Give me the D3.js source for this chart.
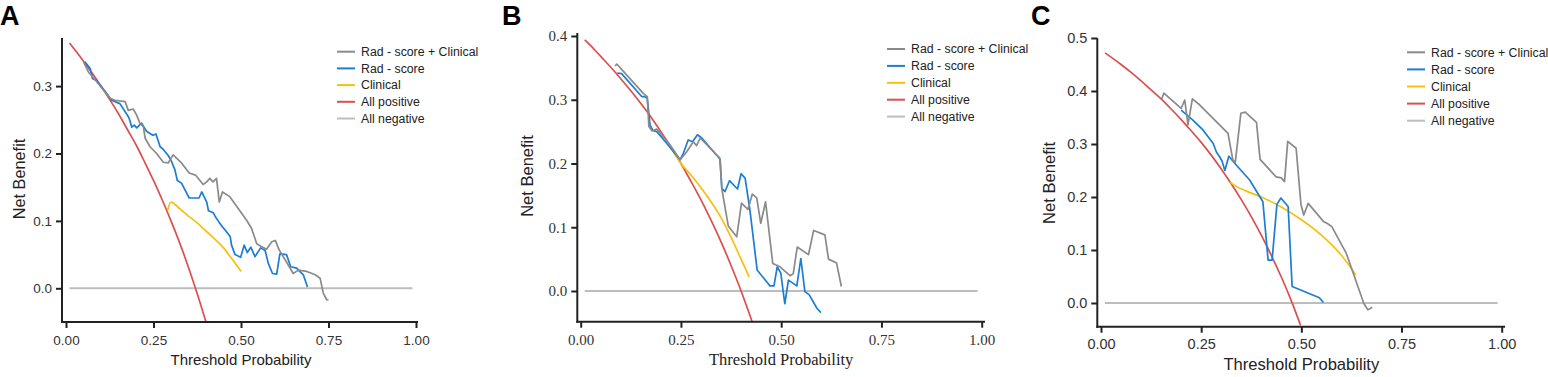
<!DOCTYPE html>
<html>
<head>
<meta charset="utf-8">
<script src="https://cdn.jsdelivr.net/npm/d3@7"></script>
<style>
  body { margin: 0; background: #fff; }
  svg { display: block; }
</style>
</head>
<body>
<svg id="chart" width="1548" height="377"></svg>
<script>

// ---- data: [threshold, net benefit] ----
var legendNames = ["Rad - score + Clinical", "Rad - score", "Clinical", "All positive", "All negative"];
var xTicks = [0, 0.25, 0.5, 0.75, 1];

// panel A
var radClinA = [[0.05,0.336],[0.064,0.321],[0.09,0.305],[0.126,0.282],[0.14,0.279],[0.169,0.277],[0.178,0.264],[0.192,0.266],[0.202,0.257],[0.211,0.245],[0.221,0.24],[0.226,0.223],[0.24,0.21],[0.259,0.2],[0.278,0.187],[0.292,0.186],[0.306,0.198],[0.33,0.186],[0.352,0.171],[0.37,0.168],[0.392,0.154],[0.402,0.158],[0.411,0.163],[0.42,0.158],[0.43,0.163],[0.438,0.128],[0.447,0.143],[0.468,0.136],[0.49,0.12],[0.516,0.101],[0.53,0.089],[0.545,0.066],[0.558,0.062],[0.573,0.058],[0.588,0.069],[0.598,0.071],[0.609,0.057],[0.63,0.039],[0.649,0.022],[0.664,0.027],[0.688,0.025],[0.712,0.02],[0.726,0.015],[0.735,-0.007],[0.745,-0.017],[0.75,-0.017]];
var radA = [[0.054,0.336],[0.069,0.326],[0.076,0.311],[0.086,0.309],[0.1,0.3],[0.115,0.29],[0.13,0.279],[0.154,0.274],[0.169,0.262],[0.18,0.253],[0.188,0.239],[0.195,0.242],[0.202,0.238],[0.216,0.245],[0.23,0.233],[0.248,0.227],[0.257,0.229],[0.269,0.21],[0.278,0.206],[0.292,0.197],[0.3,0.19],[0.311,0.176],[0.318,0.16],[0.33,0.156],[0.352,0.134],[0.38,0.134],[0.388,0.143],[0.402,0.128],[0.407,0.115],[0.421,0.112],[0.426,0.107],[0.44,0.096],[0.447,0.091],[0.454,0.087],[0.469,0.077],[0.473,0.064],[0.483,0.05],[0.499,0.046],[0.509,0.064],[0.518,0.053],[0.528,0.061],[0.54,0.047],[0.556,0.06],[0.569,0.056],[0.578,0.037],[0.59,0.022],[0.602,0.021],[0.611,0.051],[0.63,0.05],[0.642,0.032],[0.659,0.03],[0.668,0.025],[0.678,0.02],[0.69,0.002]];
var clinA = [[0.29,0.115],[0.3,0.128],[0.325,0.118],[0.35,0.107],[0.375,0.097],[0.4,0.085],[0.425,0.073],[0.45,0.06],[0.475,0.043],[0.5,0.025]];
var allPosA = [[0.01,0.364],[0.025,0.354],[0.05,0.337],[0.075,0.319],[0.1,0.30],[0.125,0.28],[0.15,0.259],[0.175,0.236],[0.2,0.213],[0.225,0.187],[0.25,0.16],[0.275,0.131],[0.3,0.10],[0.325,0.067],[0.35,0.031],[0.375,-0.008],[0.4,-0.05]];
var allNegA = [[0.01,0],[0.99,0]];
var yTicksA = [0, 0.1, 0.2, 0.3];

// panel B
var radClinB = [[0.086,0.353],[0.09,0.356],[0.12,0.335],[0.156,0.31],[0.166,0.305],[0.17,0.258],[0.178,0.251],[0.19,0.254],[0.223,0.229],[0.248,0.206],[0.264,0.218],[0.281,0.234],[0.289,0.228],[0.298,0.24],[0.343,0.211],[0.348,0.205],[0.352,0.16],[0.368,0.102],[0.389,0.085],[0.401,0.138],[0.417,0.128],[0.428,0.152],[0.439,0.146],[0.449,0.106],[0.461,0.14],[0.479,0.043],[0.497,0.038],[0.522,0.024],[0.53,0.027],[0.54,0.069],[0.568,0.057],[0.581,0.095],[0.609,0.088],[0.618,0.05],[0.638,0.044],[0.65,0.007]];
var radB = [[0.091,0.342],[0.102,0.341],[0.152,0.305],[0.16,0.305],[0.166,0.302],[0.173,0.26],[0.18,0.252],[0.19,0.25],[0.21,0.235],[0.248,0.206],[0.256,0.216],[0.268,0.237],[0.279,0.234],[0.291,0.245],[0.302,0.24],[0.339,0.213],[0.347,0.208],[0.352,0.161],[0.36,0.156],[0.371,0.173],[0.391,0.16],[0.4,0.184],[0.41,0.177],[0.422,0.127],[0.44,0.033],[0.472,0.008],[0.482,0.008],[0.49,0.038],[0.499,0.028],[0.509,-0.02],[0.518,0.017],[0.539,0.008],[0.549,0.051],[0.559,-0.001],[0.57,-0.006],[0.589,-0.027],[0.599,-0.034]];
var clinB = [[0.22,0.23],[0.25,0.2],[0.275,0.182],[0.3,0.162],[0.325,0.14],[0.35,0.115],[0.375,0.084],[0.4,0.05],[0.42,0.022]];
var allPosB = [[0.01,0.394],[0.025,0.385],[0.05,0.368],[0.075,0.351],[0.1,0.333],[0.125,0.314],[0.15,0.294],[0.175,0.273],[0.2,0.25],[0.225,0.226],[0.25,0.2],[0.275,0.172],[0.3,0.143],[0.325,0.111],[0.35,0.077],[0.375,0.04],[0.4,0],[0.428,-0.049]];
var allNegB = [[0.01,0],[0.99,0]];
var yTicksB = [0, 0.1, 0.2, 0.3, 0.4];

// panel C
var radClinC = [[0.151,0.384],[0.157,0.396],[0.2,0.367],[0.209,0.383],[0.217,0.336],[0.228,0.385],[0.246,0.374],[0.317,0.32],[0.329,0.27],[0.335,0.265],[0.349,0.358],[0.36,0.36],[0.388,0.341],[0.397,0.271],[0.437,0.238],[0.45,0.236],[0.458,0.229],[0.466,0.305],[0.487,0.292],[0.499,0.186],[0.506,0.166],[0.517,0.188],[0.555,0.154],[0.565,0.15],[0.576,0.144],[0.612,0.094],[0.656,-0.001],[0.666,-0.013],[0.677,-0.008]];
var radC = [[0.2,0.364],[0.228,0.346],[0.255,0.326],[0.28,0.301],[0.288,0.285],[0.296,0.276],[0.302,0.268],[0.309,0.25],[0.319,0.277],[0.338,0.26],[0.371,0.232],[0.404,0.191],[0.417,0.081],[0.427,0.081],[0.439,0.186],[0.449,0.198],[0.467,0.182],[0.477,0.031],[0.545,0.01],[0.555,0.001]];
var clinC = [[0.322,0.228],[0.335,0.221],[0.36,0.212],[0.4,0.2],[0.45,0.181],[0.5,0.157],[0.55,0.128],[0.6,0.09],[0.636,0.053]];
var allPosC = [[0.01,0.472],[0.025,0.464],[0.05,0.45],[0.075,0.435],[0.1,0.419],[0.125,0.402],[0.15,0.385],[0.175,0.366],[0.2,0.346],[0.225,0.325],[0.25,0.303],[0.275,0.279],[0.3,0.253],[0.325,0.225],[0.35,0.195],[0.375,0.163],[0.4,0.128],[0.425,0.09],[0.45,0.049],[0.475,0.004],[0.498,-0.042]];
var allNegC = [[0.01,0],[0.99,0]];
var yTicksC = [0, 0.1, 0.2, 0.3, 0.4, 0.5];

// ---- layout / style ----
var colors = ["#8a8a8a", "#1b7dd5", "#f6c10e", "#dc4f4f", "#bdbdbd"];
var sans = "Liberation Sans, Arial, sans-serif";
var serif = "Liberation Serif, Times New Roman, serif";

var panels = [
  { letter: "A", lx: 0, series: [radClinA, radA, clinA, allPosA, allNegA], yTicks: yTicksA,
    xr: [66, 416], yr: [288.3, 86.1], yTickVal: 0.3, axisX: 62, axisY: 322, top: 38, right: 418,
    tickFont: sans, tickSize: 13.5, xPad: 7, titleFont: sans, xTitleSize: 15, yTitleSize: 16.3,
    xTitleY: 365, yTitleX: 19, yTitleY: 179, legX: 337, legY: 51.7, legStep: 16.7 },
  { letter: "B", lx: 502, series: [radClinB, radB, clinB, allPosB, allNegB], yTicks: yTicksB,
    xr: [580.7, 981.7], yr: [291, 36], yTickVal: 0.4, axisX: 577.3, axisY: 321.7, top: 33, right: 985,
    tickFont: serif, tickSize: 15, xPad: 7, titleFont: serif, xTitleSize: 16.5, yTitleSize: 16.5, yTitleFont: sans,
    xTitleY: 365, yTitleX: 527, yTitleY: 176, legX: 887, legY: 49, legStep: 16.9 },
  { letter: "C", lx: 1031, series: [radClinC, radC, clinC, allPosC, allNegC], yTicks: yTicksC,
    xr: [1101, 1501.7], yr: [303, 38], yTickVal: 0.5, axisX: 1097.3, axisY: 326.7, top: 38.3, right: 1505,
    tickFont: sans, tickSize: 14.5, xPad: 6, titleFont: sans, xTitleSize: 16.6, yTitleSize: 16.6,
    xTitleY: 370, yTitleX: 1049, yTitleY: 183, legX: 1407, legY: 52.3, legStep: 17.1 }
];

var svg = d3.select("#chart");

panels.forEach(function (p) {
  var g = svg.append("g");

  var x = d3.scaleLinear().domain([0, 1]).range(p.xr);
  var y = d3.scaleLinear().domain([0, p.yTickVal]).range(p.yr);

  // series lines: draw "All negative" first, model curves last
  var order = [4, 3, 2, 1, 0];
  order.forEach(function (i) {
    var smooth = (i == 2 || i == 3);
    var line = d3.line()
      .x(function (d) { return x(d[0]); })
      .y(function (d) { return y(d[1]); })
      .curve(smooth ? d3.curveMonotoneX : d3.curveLinear);
    g.append("path")
      .datum(p.series[i])
      .attr("d", line)
      .attr("fill", "none")
      .attr("stroke", colors[i])
      .attr("stroke-width", i == 4 ? 2 : 1.7)
      .attr("stroke-linejoin", "round");
  });

  // y axis
  var yAxis = g.append("g")
    .attr("transform", "translate(" + p.axisX + ",0)")
    .call(d3.axisLeft(y).tickValues(p.yTicks).tickFormat(d3.format(".1f")).tickSize(6).tickPadding(4));
  yAxis.select(".domain").remove();
  yAxis.selectAll("line").attr("stroke", "#222").attr("stroke-width", 2);
  yAxis.selectAll("text")
    .style("font-family", p.tickFont)
    .style("font-size", p.tickSize + "px")
    .attr("fill", "#333");

  // x axis
  var xAxis = g.append("g")
    .attr("transform", "translate(0," + p.axisY + ")")
    .call(d3.axisBottom(x).tickValues(xTicks).tickFormat(d3.format(".2f")).tickSize(6).tickPadding(p.xPad));
  xAxis.select(".domain").remove();
  xAxis.selectAll("line").attr("stroke", "#222").attr("stroke-width", 2);
  xAxis.selectAll("text")
    .style("font-family", p.tickFont)
    .style("font-size", p.tickSize + "px")
    .attr("fill", "#333");

  // axis lines
  g.append("line")
    .attr("x1", p.axisX).attr("x2", p.axisX)
    .attr("y1", p.top).attr("y2", p.axisY + 1)
    .attr("stroke", "#222").attr("stroke-width", 2);
  g.append("line")
    .attr("x1", p.axisX - 1).attr("x2", p.right)
    .attr("y1", p.axisY).attr("y2", p.axisY)
    .attr("stroke", "#222").attr("stroke-width", 2);

  // titles
  g.append("text")
    .attr("x", (p.xr[0] + p.xr[1]) / 2)
    .attr("y", p.xTitleY)
    .attr("text-anchor", "middle")
    .style("font-family", p.titleFont)
    .style("font-size", p.xTitleSize + "px")
    .attr("fill", "#222")
    .text("Threshold Probability");

  g.append("text")
    .attr("transform", "translate(" + p.yTitleX + "," + p.yTitleY + ") rotate(-90)")
    .attr("text-anchor", "middle")
    .attr("dy", "0.35em")
    .style("font-family", p.yTitleFont || p.titleFont)
    .style("font-size", p.yTitleSize + "px")
    .attr("fill", "#222")
    .text("Net Benefit");

  // panel letter
  g.append("text")
    .attr("x", p.lx)
    .attr("y", 25)
    .style("font-family", sans)
    .style("font-weight", "bold")
    .style("font-size", "27px")
    .attr("fill", "#000")
    .text(p.letter);

  // legend
  var leg = g.append("g");
  legendNames.forEach(function (name, i) {
    var ly = p.legY + i * p.legStep;
    leg.append("line")
      .attr("x1", p.legX).attr("x2", p.legX + 18)
      .attr("y1", ly).attr("y2", ly)
      .attr("stroke", colors[i]).attr("stroke-width", 2);
    leg.append("text")
      .attr("x", p.legX + 24)
      .attr("y", ly)
      .attr("dy", "0.35em")
      .style("font-family", sans)
      .style("font-size", "12.3px")
      .attr("fill", "#222")
      .text(name);
  });
});
</script>
</body>
</html>
